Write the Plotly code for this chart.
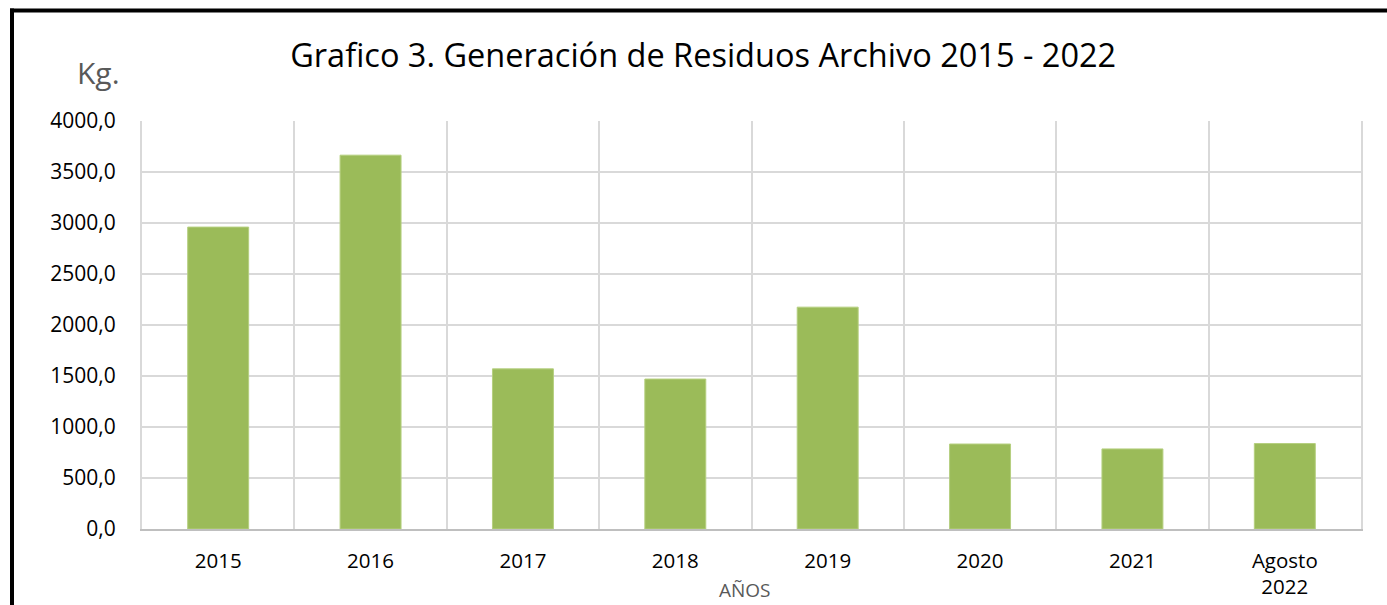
import plotly.graph_objects as go

categories = ["2015", "2016", "2017", "2018", "2019", "2020", "2021", "Agosto<br>2022"]
values = [2960, 3665, 1570, 1470, 2175, 833, 785, 838]

FONT = "Open Sans"

fig = go.Figure()
fig.add_trace(go.Bar(
    x=categories, y=values,
    marker=dict(color="#9bbb59", line=dict(color="#b5cf7f", width=1)),
    width=0.4,
))

fig.update_layout(
    width=1387, height=605,
    margin=dict(l=142, r=26, t=121, b=76, autoexpand=False),
    paper_bgcolor="white", plot_bgcolor="white",
    separators=",.",
    showlegend=False,
    font=dict(family=FONT, color="#000000"),
    title=dict(
        text="Grafico 3. Generación de Residuos Archivo 2015 - 2022",
        x=0.507, xref="container", xanchor="center",
        y=1 - 56 / 605, yref="container", yanchor="middle",
        font=dict(family=FONT, size=32.5, color="#000000"),
    ),
    xaxis=dict(
        type="category",
        tickson="boundaries",
        automargin=False,
        showgrid=True, gridcolor="#d9d9d9", gridwidth=2,
        showline=True, linecolor="#bfbfbf", linewidth=2,
        ticks="", ticklen=0, ticklabelstandoff=12,
        tickfont=dict(family=FONT, size=20.5, color="#000000"),
        range=[-0.5, 7.5],
    ),
    yaxis=dict(
        range=[0, 4000], dtick=500, tickformat=".1f",
        automargin=False,
        showgrid=True, gridcolor="#d9d9d9", gridwidth=2,
        showline=True, linecolor="#d9d9d9", linewidth=2, mirror=True,
        zeroline=False, ticks="", ticklabelstandoff=20,
        tickfont=dict(family=FONT, size=21, color="#000000"),
    ),
    annotations=[
        dict(text="Kg.", xref="paper", yref="paper",
             x=(98 - 142) / 1219, y=(529 - 72) / 408,
             xanchor="center", yanchor="middle", showarrow=False,
             font=dict(family=FONT, size=30, color="#595959")),
        dict(text="AÑOS", xref="paper", yref="paper",
             x=(745 - 142) / 1219, y=(529 - 604) / 408,
             xanchor="center", yanchor="bottom", showarrow=False,
             borderpad=0,
             font=dict(family=FONT, size=19, color="#595959")),
    ],
    shapes=[
        dict(type="line", xref="paper", yref="paper",
             x0=(12 - 142) / 1219, x1=(12 - 142) / 1219,
             y0=(529 - 620) / 408, y1=(529 - 8.5) / 408,
             line=dict(color="black", width=4)),
        dict(type="line", xref="paper", yref="paper",
             x0=(10 - 142) / 1219, x1=(1400 - 142) / 1219,
             y0=(529 - 10.5) / 408, y1=(529 - 10.5) / 408,
             line=dict(color="black", width=4)),
    ],
)

fig.write_html(
    "out.html",
    config={"displayModeBar": False},
    post_script="document.body.style.margin='0px';document.body.style.overflow='hidden';",
)
